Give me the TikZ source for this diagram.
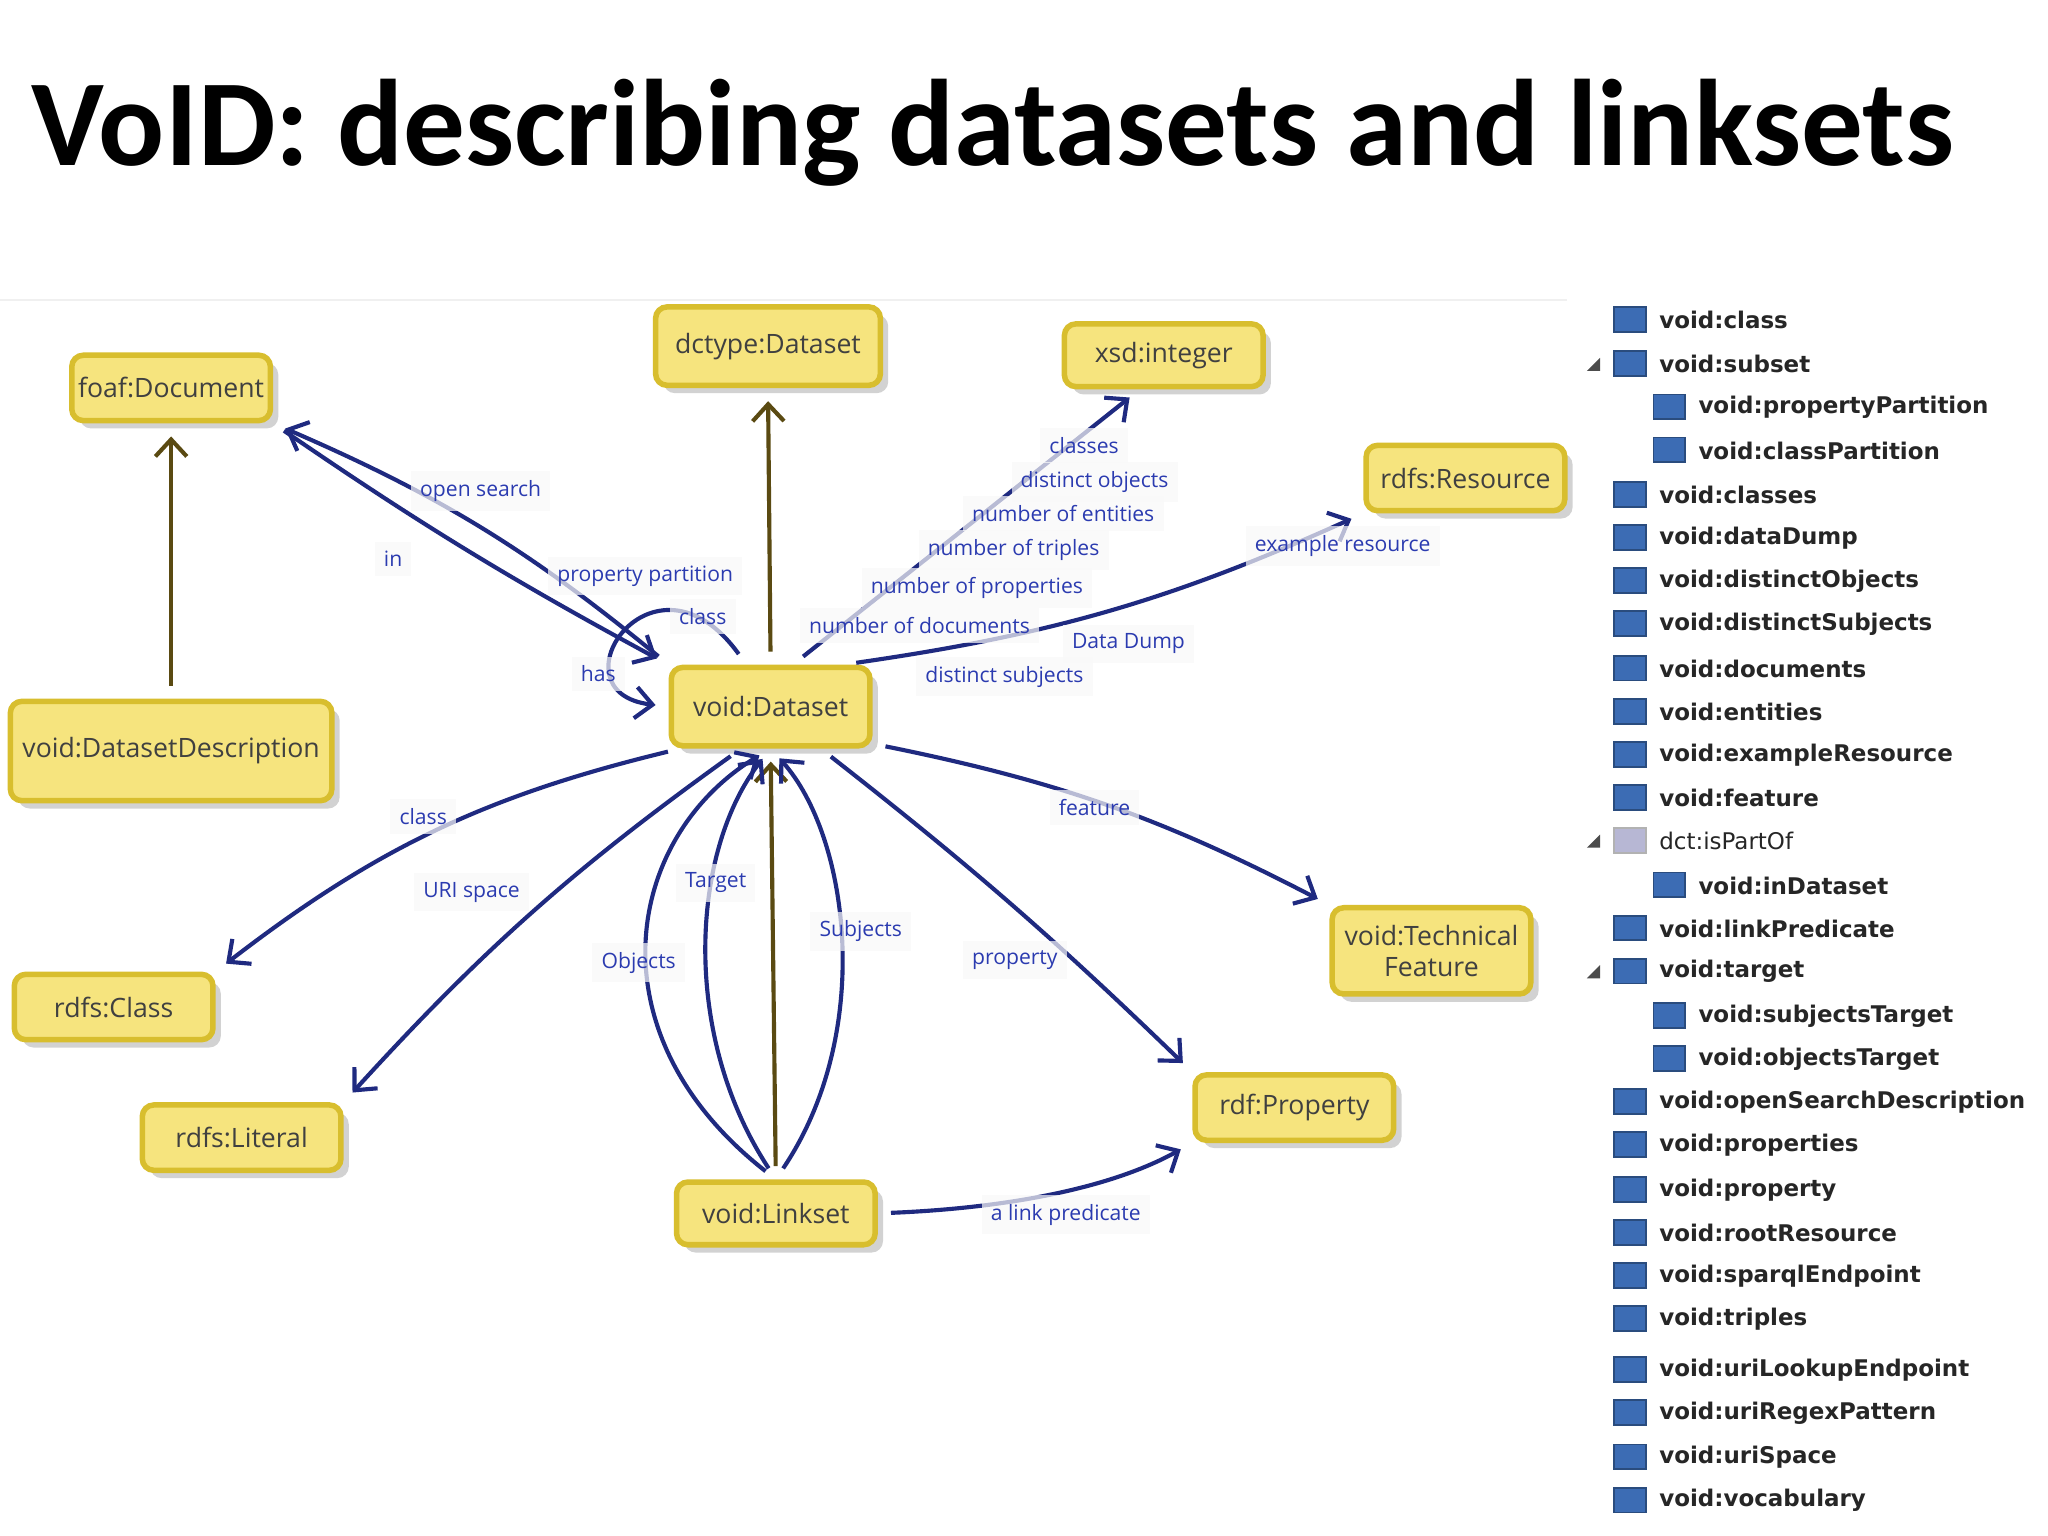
\documentclass[tikz,border=0pt]{standalone}
\usepackage{fontspec}
\setmainfont{Carlito}
\newfontfamily\nodefont{Open Sans}
\newfontfamily\listfont{DejaVu Sans}
\usetikzlibrary{arrows.meta,shadows}
\definecolor{boxfill}{HTML}{F6E47E}
\definecolor{boxline}{HTML}{D8BE2E}
\definecolor{navy}{HTML}{1F2A80}
\definecolor{olive}{HTML}{5A4A12}
\definecolor{lbl}{HTML}{2B3BB0}
\definecolor{icon}{HTML}{3C6CB4}

\begin{document}
\begin{tikzpicture}[x=0.01cm,y=-0.01cm,
    box/.style={draw=boxline, fill=boxfill, line width=1.2pt, rounded corners=2.5pt,
      drop shadow={shadow xshift=0.6mm, shadow yshift=-0.6mm, opacity=0.35},
      font=\nodefont\fontsize{5.8}{6.6}\selectfont, text=black!75, align=center, inner sep=1pt},
    link/.style={navy, line width=0.9pt, -{Straight Barb[length=1.3mm,width=2.4mm]}, shorten >=1mm, shorten <=1mm},
    sub/.style={olive, line width=0.9pt, -{Straight Barb[length=1.3mm,width=2.4mm]}, shorten >=1mm, shorten <=1mm},
    elbl/.style={font=\nodefont\fontsize{4.6}{5}\selectfont, text=lbl, fill=gray!5, fill opacity=0.7, text opacity=1, inner sep=2pt}]
  \useasboundingbox (0,0) rectangle (1568,1176);
  \fill[white] (0,0) rectangle (1568,1176);

  % title
  \node[anchor=west, font=\bfseries\fontsize{26.8}{30}\selectfont] (title) at (12,102) {VoID: describing datasets and linksets};
  \draw[gray!12] (0,230) -- (1200,230);

  % classes
  \node[box, minimum width=1.52cm, minimum height=0.50cm] (foaf) at (131,297) {foaf:Document};
  \node[box, minimum width=1.72cm, minimum height=0.60cm] (dctype) at (588,265) {dctype:Dataset};
  \node[box, minimum width=1.52cm, minimum height=0.48cm] (xsd) at (891,272) {xsd:integer};
  \node[box, minimum width=1.52cm, minimum height=0.50cm] (res) at (1122,366) {rdfs:Resource};
  \node[box, minimum width=2.46cm, minimum height=0.76cm] (desc) at (131,575) {void:DatasetDescription};
  \node[box, minimum width=1.52cm, minimum height=0.60cm] (ds) at (590,541) {void:Dataset};
  \node[box, minimum width=1.52cm, minimum height=0.50cm] (cls) at (87,771) {rdfs:Class};
  \node[box, minimum width=1.52cm, minimum height=0.50cm] (lit) at (185,871) {rdfs:Literal};
  \node[box, minimum width=1.52cm, minimum height=0.66cm] (tf) at (1096,728) {void:Technical\\Feature};
  \node[box, minimum width=1.52cm, minimum height=0.50cm] (prop) at (991,848) {rdf:Property};
  \node[box, minimum width=1.52cm, minimum height=0.48cm] (ls) at (594,929) {void:Linkset};

  % subclass arrows
  \draw[sub] (desc.north) -- (foaf.south);
  \draw[sub] (ds.north) -- (dctype.south);
  \draw[sub] (ls.north) -- (ds.south);

  % properties of void:Dataset
  \draw[link] (ds.north west) to[bend right=8] (foaf.south east);
  \draw[link] (foaf.south east) to[bend right=3] (ds.north west);
  \draw[link] (ds.120) .. controls (500,410) and (420,530) .. (ds.west);
  \draw[link] (ds.62) -- (xsd.235);
  \draw[link] (ds.30) to[bend right=8] (res.south west);
  \draw[link] (ds.205) to[bend right=12] (cls.north east);
  \draw[link] (ds.235) to[bend right=6] (lit.north east);
  \draw[link] (ds.-20) to[bend left=8] (tf.north west);
  \draw[link] (ds.-40) to[bend left=3] (prop.north west);

  % properties of void:Linkset
  \draw[link] (ls.north) .. controls (450,790) and (480,640) .. (ds.south);
  \draw[link] (ls.north) .. controls (520,790) and (530,650) .. (ds.south);
  \draw[link] (ls.north) .. controls (670,790) and (650,640) .. (ds.south);
  \draw[link] (ls.east) .. controls (770,925) and (850,910) .. (prop.south west);

  % edge labels
  \foreach \lx/\ly/\txt in {368/376/open search, 301/428/in, 494/441/property partition, 538/472/class,
      458/516/has, 830/341/classes, 838/369/distinct objects, 814/393/number of entities,
      776/421/number of triples, 748/450/number of properties, 704/479/number of documents,
      1028/418/example resource, 864/493/Data Dump, 769/518/distinct subjects,
      324/625/class, 361/683/URI space, 838/618/feature, 548/676/Target, 489/737/Objects,
      659/713/Subjects, 777/735/property, 816/930/a link predicate}
    \node[elbl] at (\lx,\ly) {\txt};

  % property list
  \foreach \iy/\ind/\txt/\kind in {245/0/void:class/0, 279/0/void:subset/1, 312/1/void:propertyPartition/0,
      345/1/void:classPartition/0, 379/0/void:classes/0, 412/0/void:dataDump/0, 445/0/void:distinctObjects/0,
      478/0/void:distinctSubjects/0, 512/0/void:documents/0, 545/0/void:entities/0, 578/0/void:exampleResource/0,
      611/0/void:feature/0, 644/0/dct:isPartOf/2, 678/1/void:inDataset/0, 711/0/void:linkPredicate/0,
      744/0/void:target/1, 778/1/void:subjectsTarget/0, 811/1/void:objectsTarget/0,
      844/0/void:openSearchDescription/0, 877/0/void:properties/0, 911/0/void:property/0,
      944/0/void:rootResource/0, 977/0/void:sparqlEndpoint/0, 1010/0/void:triples/0,
      1049/0/void:uriLookupEndpoint/0, 1082/0/void:uriRegexPattern/0, 1116/0/void:uriSpace/0,
      1149/0/void:vocabulary/0}{
    \pgfmathsetmacro{\ix}{1248+30*\ind}
    \ifnum\kind=2
      \fill[blue!25!gray!45, draw=gray!60] (\ix-12,\iy-10) rectangle (\ix+12,\iy+9);
      \node[anchor=west, font=\listfont\fontsize{5}{6}\selectfont, text=black!85] at (\ix+10,\iy) {\txt};
    \else
      \fill[icon, draw=icon!70!black] (\ix-12,\iy-10) rectangle (\ix+12,\iy+9);
      \node[anchor=west, font=\listfont\bfseries\fontsize{5}{6}\selectfont, text=black!85] at (\ix+10,\iy) {\txt};
    \fi
    \ifnum\kind=2
      \fill[black!70] (\ix-23,\iy-5) -- (\ix-23,\iy+5) -- (\ix-33,\iy+5) -- cycle;
    \fi
    \ifnum\kind=1
      \fill[black!70] (\ix-23,\iy-5) -- (\ix-23,\iy+5) -- (\ix-33,\iy+5) -- cycle;
    \fi
  }
\end{tikzpicture}
\end{document}
